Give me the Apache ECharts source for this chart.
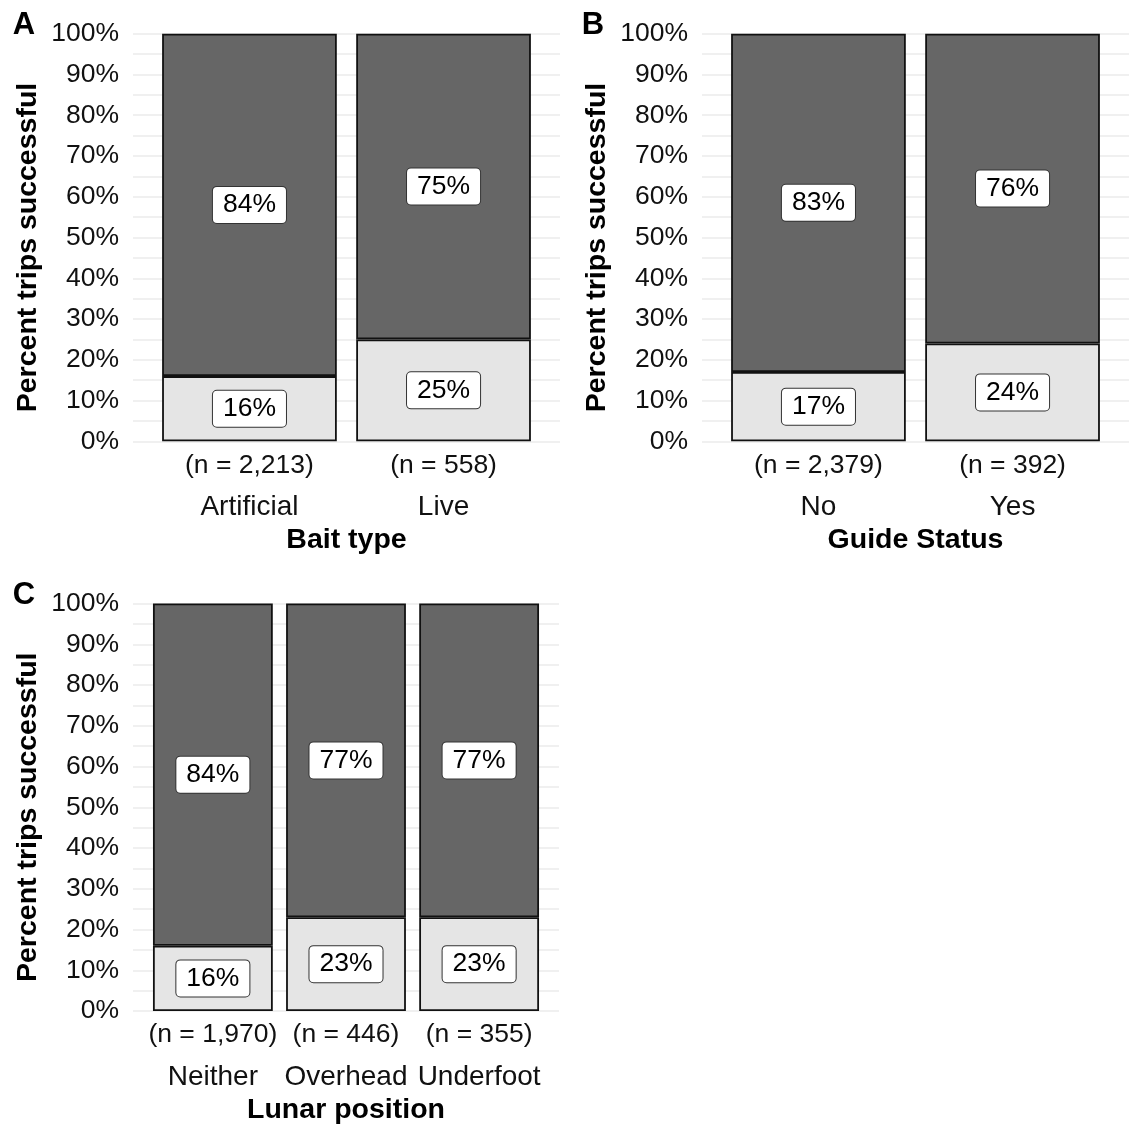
<!DOCTYPE html>
<html>
<head>
<meta charset="utf-8">
<title>Percent trips successful</title>
<script src="https://cdn.jsdelivr.net/npm/echarts@6/dist/echarts.min.js"></script>
<style>
  html, body { margin: 0; padding: 0; background: #ffffff; }
  #chart { width: 1134px; height: 1124px; }
</style>
</head>
<body>
<div id="chart"></div>
<script>
// Panel A: bait type
const baitCategories = ['Artificial', 'Live'];
const baitCounts = [2213, 558];
const baitSuccessful = [16, 25];
const baitUnsuccessful = [84, 75];

// Panel B: guide status
const guideCategories = ['No', 'Yes'];
const guideCounts = [2379, 392];
const guideSuccessful = [17, 24];
const guideUnsuccessful = [83, 76];

// Panel C: lunar position
const lunarCategories = ['Neither', 'Overhead', 'Underfoot'];
const lunarCounts = [1970, 446, 355];
const lunarSuccessful = [16, 23, 23];
const lunarUnsuccessful = [84, 77, 77];

const yTitle = 'Percent trips successful';
const FONT = '"Liberation Sans", Arial, sans-serif';
const TEXT = '#111111';

const panels = [
  { letter: 'A', title: 'Bait type', cats: baitCategories, counts: baitCounts,
    lo: baitSuccessful, hi: baitUnsuccessful,
    box: { left: 133, top: 33.7, width: 427, height: 407.6 } },
  { letter: 'B', title: 'Guide Status', cats: guideCategories, counts: guideCounts,
    lo: guideSuccessful, hi: guideUnsuccessful,
    box: { left: 702, top: 33.7, width: 427, height: 407.6 } },
  { letter: 'C', title: 'Lunar position', cats: lunarCategories, counts: lunarCounts,
    lo: lunarSuccessful, hi: lunarUnsuccessful,
    box: { left: 133, top: 603.5, width: 426, height: 407.5 } }
];

const fmtCount = v => v.toLocaleString('en-US');

const option = {
  animation: false,
  backgroundColor: '#ffffff',
  textStyle: { fontFamily: FONT },
  grid: [], xAxis: [], yAxis: [], series: [], graphic: []
};

panels.forEach((p, i) => {
  const b = p.box;
  const n = p.cats.length;
  // discrete scale padded by 0.6 of a category on each side
  const band = b.width / (n + 0.2);
  const bg = 2 * i, br = 2 * i + 1;

  // background grid: y ticks and horizontal gridlines across the full panel
  option.grid.push({ left: b.left, top: b.top, width: b.width, height: b.height });
  option.xAxis.push({ gridIndex: bg, type: 'value', min: 0, max: 1, show: false });
  option.yAxis.push({
    gridIndex: bg, type: 'value', min: 0, max: 100, interval: 5,
    axisLine: { show: false }, axisTick: { show: false },
    splitLine: { show: true, lineStyle: { color: '#ebebeb', width: 1.5 } },
    axisLabel: {
      margin: 14, fontSize: 26.5, color: TEXT, fontFamily: FONT,
      formatter: v => (v % 10 === 0 ? v + '%' : '')
    }
  });

  // bar grid: one band per category
  option.grid.push({ left: b.left + 0.1 * band, top: b.top, width: n * band, height: b.height });
  option.xAxis.push({
    gridIndex: br, type: 'category', data: p.cats,
    axisLine: { show: false }, axisTick: { show: false }, splitLine: { show: false },
    axisLabel: {
      interval: 0, margin: 3, lineHeight: 42, color: TEXT,
      formatter: (val, idx) => '{n|(n = ' + fmtCount(p.counts[idx]) + ')}\n{c|' + val + '}',
      rich: {
        n: { fontSize: 26.5, lineHeight: 42, color: TEXT, fontFamily: FONT },
        c: { fontSize: 28, lineHeight: 42, color: TEXT, fontFamily: FONT }
      }
    }
  });
  option.yAxis.push({ gridIndex: br, type: 'value', min: 0, max: 100, show: false });

  const label = {
    show: true, position: 'inside', formatter: '{c}%',
    fontSize: 26.5, color: '#000', fontFamily: FONT,
    backgroundColor: '#ffffff', borderColor: '#333333', borderWidth: 1,
    borderRadius: 4, padding: [5, 10, 4, 10]
  };
  option.series.push({
    name: 'Successful', type: 'bar', stack: 'p' + i,
    xAxisIndex: br, yAxisIndex: br, barWidth: '90%',
    data: p.lo,
    itemStyle: { color: '#e5e5e5', borderColor: '#111111', borderWidth: 1.8 },
    label: label
  });
  option.series.push({
    name: 'Unsuccessful', type: 'bar', stack: 'p' + i,
    xAxisIndex: br, yAxisIndex: br, barWidth: '90%',
    data: p.hi,
    itemStyle: { color: '#666666', borderColor: '#111111', borderWidth: 1.8 },
    label: label
  });

  const midY = b.top + b.height / 2;
  // panel tag
  option.graphic.push({
    type: 'text', x: b.left - 109, y: b.top - 8,
    style: { text: p.letter, fontSize: 31, fontWeight: 'bold', fontFamily: FONT,
      fill: '#000', align: 'center', verticalAlign: 'middle' }
  });
  // y axis title
  option.graphic.push({
    type: 'text', x: b.left - 105, y: midY + 10, rotation: Math.PI / 2,
    style: { text: yTitle, fontSize: 28.5, fontWeight: 'bold', fontFamily: FONT,
      fill: '#000', align: 'center', verticalAlign: 'middle' }
  });
  // x axis title
  option.graphic.push({
    type: 'text', x: b.left + b.width / 2, y: b.top + b.height + 99,
    style: { text: p.title, fontSize: 28.5, fontWeight: 'bold', fontFamily: FONT,
      fill: '#000', align: 'center', verticalAlign: 'middle' }
  });
});

const chart = echarts.init(document.getElementById('chart'), null, { renderer: 'canvas' });
chart.setOption(option);
</script>
</body>
</html>
